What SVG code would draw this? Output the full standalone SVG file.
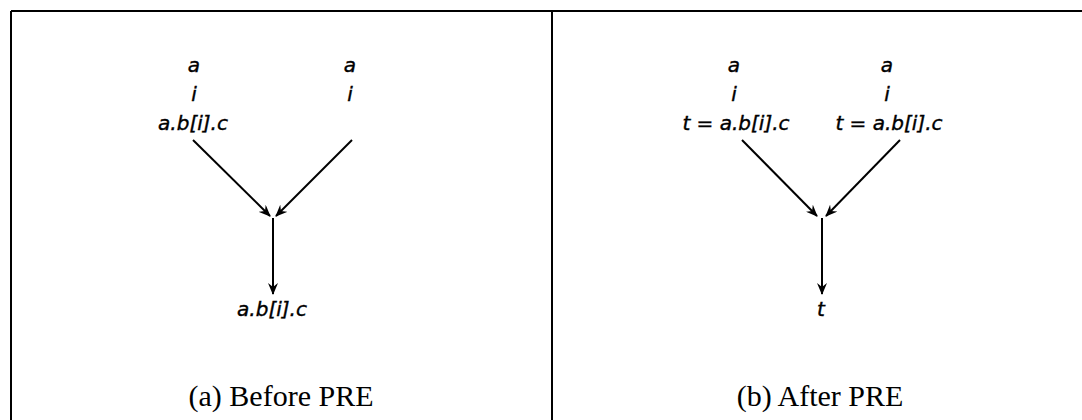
<svg xmlns="http://www.w3.org/2000/svg" width="1082" height="420" viewBox="0 0 1082 420">
<style>
.lbl{font-family:"DejaVu Sans",sans-serif;font-style:italic;font-size:20px;fill:#000;text-anchor:middle;stroke:#000;stroke-width:0.4}
.cap{font-family:"Liberation Serif",serif;font-size:30px;fill:#000;text-anchor:middle}
.edge{stroke:#000;stroke-width:2;fill:none;marker-end:url(#ah)}
.frame{stroke:#000;stroke-width:2;fill:none}
</style>
<defs>
<marker id="ah" viewBox="0 0 12 10" refX="11" refY="5" markerWidth="12" markerHeight="10" markerUnits="userSpaceOnUse" orient="auto">
<path d="M0,0 L12,5 L0,10 L4,5 Z" fill="#000"/>
</marker>
</defs>
<rect width="1082" height="420" fill="#fff"/>
<g id="frame">
<line class="frame" x1="11" y1="11" x2="1082" y2="11"/>
<line class="frame" x1="11" y1="11" x2="11" y2="420"/>
<line class="frame" x1="552" y1="11" x2="552" y2="420"/>
</g>
<g id="connectors">
<line class="edge" x1="193" y1="140" x2="270" y2="216"/>
<line class="edge" x1="352" y1="140" x2="276" y2="216"/>
<line class="edge" x1="273" y1="218" x2="273" y2="294"/>
<line class="edge" x1="742" y1="140" x2="817" y2="216"/>
<line class="edge" x1="900" y1="140" x2="826" y2="216"/>
<line class="edge" x1="822" y1="218" x2="822" y2="294"/>
</g>
<g id="a-left">
<text class="lbl" x="194" y="72">a</text>
<text class="lbl" x="194" y="101">i</text>
<text class="lbl" x="193" y="130">a.b[i].c</text>
</g>
<g id="a-right">
<text class="lbl" x="350" y="72">a</text>
<text class="lbl" x="350" y="101">i</text>
</g>
<g id="a-merge">
<text class="lbl" x="272" y="316">a.b[i].c</text>
</g>
<g id="b-left">
<text class="lbl" x="734" y="72">a</text>
<text class="lbl" x="734" y="101">i</text>
<text class="lbl" x="736" y="130">t = a.b[i].c</text>
</g>
<g id="b-right">
<text class="lbl" x="887" y="72">a</text>
<text class="lbl" x="887" y="101">i</text>
<text class="lbl" x="889" y="130">t = a.b[i].c</text>
</g>
<g id="b-merge">
<text class="lbl" x="821" y="316">t</text>
</g>
<g id="captions">
<text class="cap" x="281" y="406">(a) Before PRE</text>
<text class="cap" x="820" y="406">(b) After PRE</text>
</g>
</svg>
